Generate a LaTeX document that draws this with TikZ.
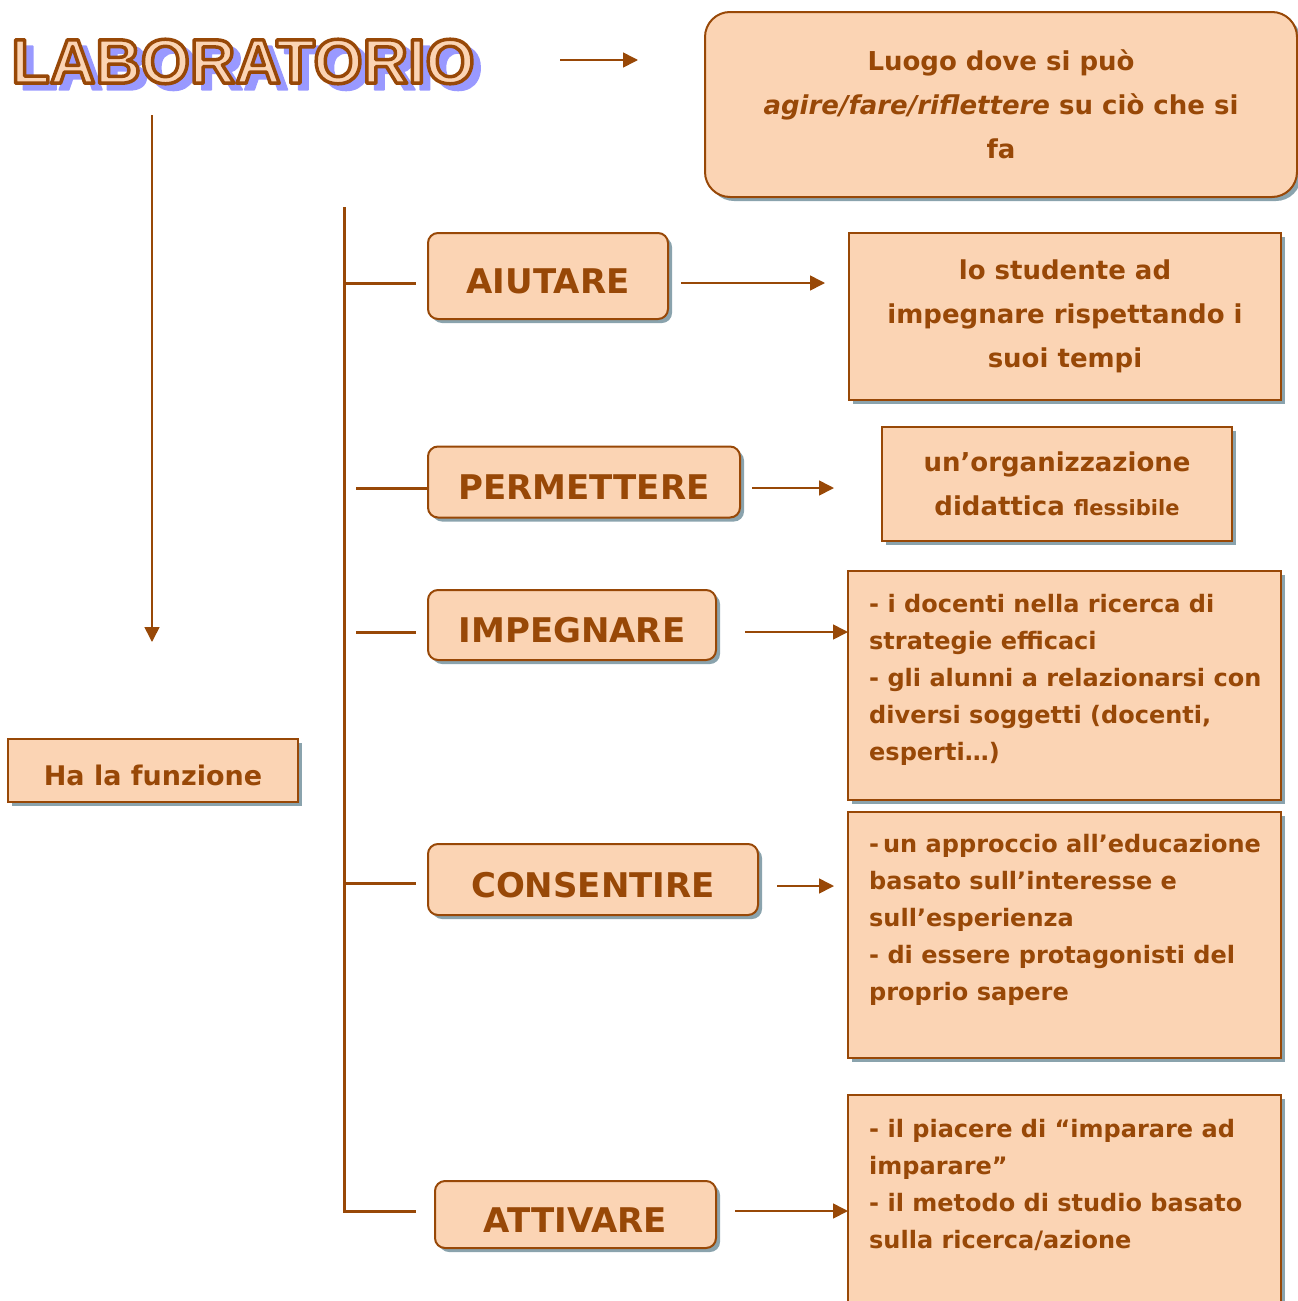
\documentclass[tikz,border=0pt]{standalone}
\usepackage{fontspec}
\setmainfont{DejaVu Sans}
\newfontfamily\titlefont{Liberation Sans}
\usetikzlibrary{arrows.meta,shadows}

\definecolor{brownline}{HTML}{984807}
\definecolor{peach}{HTML}{FBD4B4}
\definecolor{shadowgrey}{HTML}{8AA3AD}
\definecolor{titleblue}{HTML}{9999FF}

\newcommand{\verbsize}{\fontsize{34}{40}\selectfont}
\newcommand{\notesize}{\fontsize{26}{44}\selectfont}
\newcommand{\listsize}{\fontsize{24}{37}\selectfont}
\newcommand{\flexsize}{\fontsize{21}{44}\selectfont}
% outlined text: stroke colour given as r g b
\newcommand{\outlined}[3]{\special{pdf:literal direct 2 Tr #2 w 1 j #1 RG}#3\special{pdf:literal direct 0 Tr}}

\tikzset{
  boxshadow/.style={drop shadow={shadow xshift=4pt, shadow yshift=-4pt, fill=shadowgrey, opacity=1}},
  verbbox/.style={draw=brownline, line width=2pt, fill=peach, rounded corners=10pt, boxshadow,
    inner sep=0pt, text=brownline, font=\verbsize\bfseries, text height=35pt, text depth=0pt},
  notebox/.style={draw=brownline, line width=2pt, fill=peach, boxshadow,
    inner sep=0pt, text=brownline, font=\notesize\bfseries, align=center},
  listtext/.style={text=brownline, font=\listsize\bfseries, align=left, inner sep=0pt, anchor=north west},
  branch/.style={draw=brownline, line width=3pt},
  link/.style={draw=brownline, line width=1.6pt, -{Triangle[length=15pt,width=15pt]}},
  titletext/.style={font=\fontsize{63}{63}\selectfont\titlefont\bfseries, inner sep=0pt},
}

\begin{document}
\begin{tikzpicture}[x=1pt,y=-1pt]
  \useasboundingbox (0,0) rectangle (1298,1301);

  % title with shadow and outline
  \node[titletext, text=titleblue] (titleshade) at (251,68)
    {\outlined{0.6 0.6 1}{2}{LABORATORIO}};
  \node[titletext, text=peach] (title) at (243,61.5)
    {\outlined{0.596 0.282 0.027}{3.5}{LABORATORIO}};

  \coordinate (titleA) at (560,60);
  \coordinate (titleB) at (638,60);
  \draw[link] (titleA) -- (titleB);

  \node[notebox, rounded corners=25pt, minimum width=592pt, minimum height=185pt] (luogo) at (1001,104.5)
    {Luogo dove si può\\ {\itshape agire/fare/riflettere} su ciò che si\\ fa};

  % left column
  \coordinate (downA) at (152,115);
  \coordinate (downB) at (152,642);
  \draw[link] (downA) -- (downB);
  \node[notebox, minimum width=290pt, minimum height=63pt, font=\fontsize{27}{30}\selectfont\bfseries,
    text height=29pt, text depth=0pt] (funzione) at (153,770.5) {Ha la funzione};

  % trunk and branches
  \coordinate (trunkTop) at (344,207);
  \coordinate (trunkBot) at (344,1211);
  \draw[branch] (trunkTop) -- (trunkBot) -- (416,1211);
  \draw[branch] (344,283) -- (416,283);
  \draw[branch] (356,488) -- (428,488);
  \draw[branch] (356,632) -- (416,632);
  \draw[branch] (344,883) -- (416,883);

  % verbs
  \node[verbbox, minimum width=240pt, minimum height=86pt] (aiutare) at (548,276) {AIUTARE};
  \node[verbbox, minimum width=312pt, minimum height=71pt] (permettere) at (584,482) {PERMETTERE};
  \node[verbbox, minimum width=288pt, minimum height=70pt] (impegnare) at (572,625) {IMPEGNARE};
  \node[verbbox, minimum width=330pt, minimum height=71pt] (consentire) at (593,879.5) {CONSENTIRE};
  \node[verbbox, minimum width=281pt, minimum height=67pt] (attivare) at (575.5,1214.5) {ATTIVARE};

  % right column
  \node[notebox, minimum width=432pt, minimum height=167pt] (studente) at (1065,316.5)
    {lo studente ad\\ impegnare rispettando i\\ suoi tempi};
  \node[notebox, minimum width=350pt, minimum height=114pt] (organizza) at (1057,484)
    {un’organizzazione\\ didattica {\flexsize flessibile}};
  \node[notebox, minimum width=433pt, minimum height=229pt] (docenti) at (1064.5,685.5) {};
  \node[listtext] (docentiT) at (869,594)
    {- i docenti nella ricerca di\\ strategie efficaci\\ - gli alunni a relazionarsi con\\
     diversi soggetti (docenti,\\ esperti…)};
  \node[notebox, minimum width=433pt, minimum height=246pt] (approccio) at (1064.5,935) {};
  \node[listtext] (approccioT) at (869,834)
    {-\,un approccio all’educazione\\ basato sull’interesse e\\ sull’esperienza\\
     - di essere protagonisti del\\ proprio sapere};
  \node[notebox, minimum width=433pt, minimum height=225pt] (piacere) at (1064.5,1207.5) {};
  \node[listtext] (piacereT) at (869,1119)
    {- il piacere di “imparare ad\\ imparare”\\ - il metodo di studio basato\\ sulla ricerca/azione};

  % arrows
  \coordinate (a1) at (681,283);  \coordinate (b1) at (825,283);
  \coordinate (a2) at (752,488);  \coordinate (b2) at (834,488);
  \coordinate (a3) at (745,632);  \coordinate (b3) at (848,632);
  \coordinate (a4) at (777,886);  \coordinate (b4) at (834,886);
  \coordinate (a5) at (735,1211); \coordinate (b5) at (848,1211);
  \draw[link] (a1) -- (b1);
  \draw[link] (a2) -- (b2);
  \draw[link] (a3) -- (b3);
  \draw[link] (a4) -- (b4);
  \draw[link] (a5) -- (b5);
\end{tikzpicture}
\end{document}
